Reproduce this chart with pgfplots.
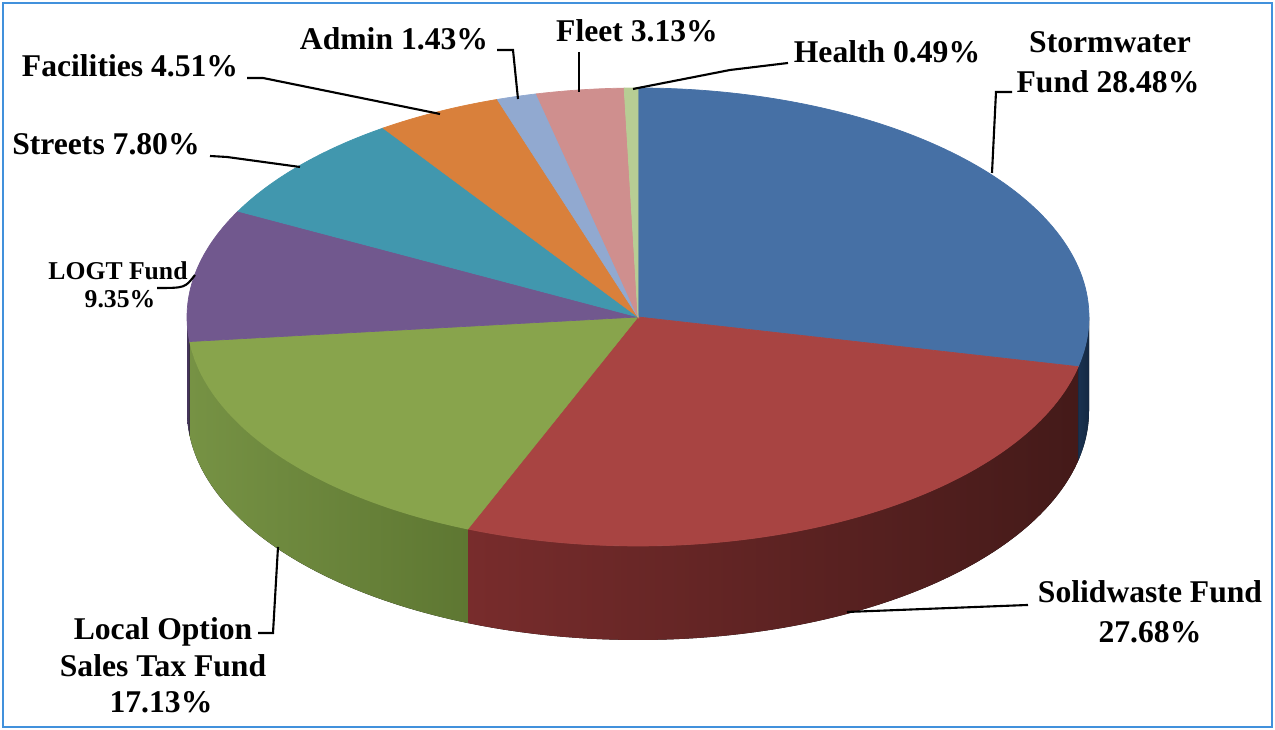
\documentclass[border=0pt]{standalone}
\usepackage{fontspec}
\setmainfont{Liberation Serif}
\usepackage{pgfplots}
\pgfplotsset{compat=1.18}
\definecolor{cSW}{RGB}{70,112,165}
\definecolor{cSD}{RGB}{168,68,66}
\definecolor{cLO}{RGB}{136,164,76}
\definecolor{cLG}{RGB}{113,88,142}
\definecolor{cST}{RGB}{65,151,174}
\definecolor{cFA}{RGB}{217,128,59}
\definecolor{cAD}{RGB}{145,169,208}
\definecolor{cFL}{RGB}{207,143,142}
\definecolor{cHE}{RGB}{183,205,148}
\definecolor{sSWa}{RGB}{26,50,80}
\definecolor{sSWb}{RGB}{20,40,66}
\definecolor{sSDa}{RGB}{120,44,44}
\definecolor{sSDm}{RGB}{76,29,28}
\definecolor{sSDb}{RGB}{68,26,25}
\definecolor{sLOa}{RGB}{118,146,68}
\definecolor{sLOb}{RGB}{94,119,50}
\definecolor{sLGa}{RGB}{70,54,92}
\definecolor{sLGb}{RGB}{66,50,88}
\definecolor{bordercol}{RGB}{65,145,220}
% top face: colour, cumulative start %, cumulative end %
\newcommand{\topslice}[3]{%
  \filldraw[fill=#1, draw=#1, line width=0.2pt] (0pt,0pt) -- ({90-3.6*(#2)}:4.51cm and 2.29cm)
    arc[start angle={90-3.6*(#2)}, end angle={90-3.6*(#3)}, x radius=4.51cm, y radius=2.29cm] -- cycle;}
% side face: shading options, start angle, end angle
\newcommand{\sideslice}[3]{%
  \fill[#1] ({#2}:4.51cm and 2.29cm)
    arc[start angle={#2}, end angle={#3}, x radius=4.51cm, y radius=2.29cm] -- ++(0pt,-0.94cm)
    arc[start angle={#3}, end angle={#2}, x radius=4.51cm, y radius=2.29cm] -- cycle;}
\newcommand{\lab}{\fontsize{9}{10}\selectfont\bfseries}
\newcommand{\labs}{\fontsize{7.3}{8}\selectfont\bfseries}
\begin{document}
\begin{tikzpicture}
\begin{axis}[scale only axis, width=12.75cm, height=7.3cm,
  xmin=0, xmax=1275, ymin=0, ymax=730, hide axis, clip=false]
\path (axis cs:0,0) rectangle (axis cs:1275,730);
\draw[bordercol, line width=0.6pt] (axis cs:3,3) rectangle (axis cs:1272,727);
\begin{scope}[shift={(axis cs:638,413)}]
  % visible side faces (front half)
  \sideslice{left color=sSWa, right color=sSWb}{90-3.6*(28.48)}{0}
  \sideslice{left color=sSDa, middle color=sSDm, right color=sSDb}{90-3.6*(56.16)}{90-3.6*(28.48)}
  \sideslice{left color=sLOa, right color=sLOb}{90-3.6*(73.29)}{90-3.6*(56.16)}
  \sideslice{left color=sLGa, right color=sLGb}{-180}{90-3.6*(73.29)}
  % top faces: Stormwater 28.48, Solidwaste 27.68, Local Option 17.13, LOGT 9.35,
  % Streets 7.80, Facilities 4.51, Admin 1.43, Fleet 3.13, Health 0.49
  \topslice{cSW}{0}{28.48}
  \topslice{cSD}{28.48}{56.16}
  \topslice{cLO}{56.16}{73.29}
  \topslice{cLG}{73.29}{82.64}
  \topslice{cST}{82.64}{90.44}
  \topslice{cFA}{90.44}{94.95}
  \topslice{cAD}{94.95}{96.38}
  \topslice{cFL}{96.38}{99.51}
  \topslice{cHE}{99.51}{100}
\end{scope}
% leader lines
\draw[black, line width=0.6pt] (axis cs:1012,638) -- (axis cs:996,638) -- (axis cs:992,557);
\draw[black, line width=0.6pt] (axis cs:788,667) -- (axis cs:730,660) -- (axis cs:633,641);
\draw[black, line width=0.6pt] (axis cs:579,678) -- (axis cs:579,638);
\draw[black, line width=0.6pt] (axis cs:497,680) -- (axis cs:513,680) -- (axis cs:518,631);
\draw[black, line width=0.6pt] (axis cs:247,652) -- (axis cs:263,652) -- (axis cs:440,616);
\draw[black, line width=0.6pt] (axis cs:210,574) -- (axis cs:227,573) -- (axis cs:300,563);
\draw[black, line width=0.6pt] (axis cs:195,455) .. controls (axis cs:185,442) .. (axis cs:157,442);
\draw[black, line width=0.6pt] (axis cs:258,97) -- (axis cs:273,97) -- (axis cs:278,183);
\draw[black, line width=0.6pt] (axis cs:1028,125) -- (axis cs:847,118);
% labels
\node[anchor=base, font=\lab, inner sep=0pt] at (axis cs:1110,677) {Stormwater};
\node[anchor=base, font=\lab, inner sep=0pt] at (axis cs:1108,637) {Fund 28.48\%};
\node[anchor=base, font=\lab, inner sep=0pt] at (axis cs:887,667) {Health 0.49\%};
\node[anchor=base, font=\lab, inner sep=0pt] at (axis cs:637,688) {Fleet 3.13\%};
\node[anchor=base, font=\lab, inner sep=0pt] at (axis cs:394,680) {Admin 1.43\%};
\node[anchor=base, font=\lab, inner sep=0pt] at (axis cs:130,653) {Facilities 4.51\%};
\node[anchor=base, font=\lab, inner sep=0pt] at (axis cs:106,575) {Streets 7.80\%};
\node[anchor=base, font=\labs, inner sep=0pt] at (axis cs:118,450) {LOGT Fund};
\node[anchor=base, font=\labs, inner sep=0pt] at (axis cs:120,422) {9.35\%};
\node[anchor=base, font=\lab, inner sep=0pt] at (axis cs:163,90) {Local Option};
\node[anchor=base, font=\lab, inner sep=0pt] at (axis cs:163,53) {Sales Tax Fund};
\node[anchor=base, font=\lab, inner sep=0pt] at (axis cs:161,17) {17.13\%};
\node[anchor=base, font=\lab, inner sep=0pt] at (axis cs:1150,127) {Solidwaste Fund};
\node[anchor=base, font=\lab, inner sep=0pt] at (axis cs:1150,87) {27.68\%};
\end{axis}
\end{tikzpicture}
\end{document}
